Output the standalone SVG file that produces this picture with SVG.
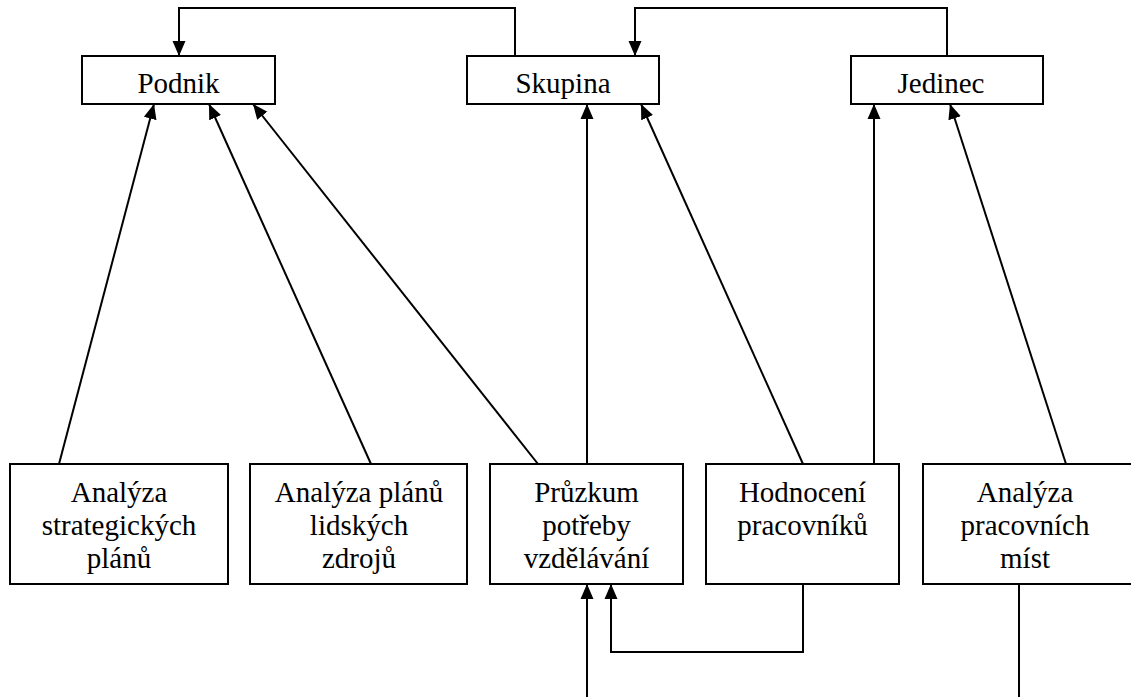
<svg xmlns="http://www.w3.org/2000/svg" width="1131" height="697" viewBox="0 0 1131 697">
  <style>
    .box { fill: #ffffff; stroke: #000000; stroke-width: 2; }
    .lbl { font-family: "Liberation Serif", "DejaVu Serif", serif; font-size: 29px; fill: #000000; text-anchor: middle; }
    .wire { fill: none; stroke: #000000; stroke-width: 2; }
    .arr { marker-end: url(#ah); }
  </style>
  <defs>
    <marker id="ah" markerWidth="15" markerHeight="14" refX="15" refY="7" orient="auto" markerUnits="userSpaceOnUse">
      <path d="M0,0.5 L15,7 L0,13.5 z" fill="#000000"/>
    </marker>
  </defs>
  <rect width="1131" height="697" fill="#ffffff"/>

  <!-- connectors -->
  <g id="connectors">
    <polyline class="wire arr" points="515,56 515,8 179,8 179,56"/>
    <polyline class="wire arr" points="947,56 947,8 635,8 635,56"/>
    <line class="wire arr" x1="59" y1="464" x2="154" y2="104"/>
    <line class="wire arr" x1="371" y1="464" x2="209" y2="104"/>
    <line class="wire arr" x1="538" y1="464" x2="253" y2="104"/>
    <line class="wire arr" x1="587" y1="464" x2="587" y2="104"/>
    <line class="wire arr" x1="803" y1="464" x2="641" y2="104"/>
    <line class="wire arr" x1="874" y1="464" x2="874" y2="104"/>
    <line class="wire arr" x1="1066" y1="464" x2="950" y2="104"/>
    <line class="wire arr" x1="587" y1="700" x2="587" y2="584"/>
    <polyline class="wire arr" points="803,584 803,652 611,652 611,584"/>
    <line class="wire" x1="1019" y1="584" x2="1019" y2="700"/>
  </g>

  <!-- top level -->
  <g id="podnik">
    <rect class="box" x="82" y="56" width="193" height="48"/>
    <text class="lbl" x="178.5" y="93" font-family="Liberation Serif">Podnik</text>
  </g>
  <g id="skupina">
    <rect class="box" x="467" y="56" width="192" height="48"/>
    <text class="lbl" x="563" y="93" font-family="Liberation Serif">Skupina</text>
  </g>
  <g id="jedinec">
    <rect class="box" x="851" y="56" width="192" height="48"/>
    <text class="lbl" x="941" y="93" font-family="Liberation Serif">Jedinec</text>
  </g>

  <!-- analysis sources -->
  <g id="analyza-strategickych">
    <rect class="box" x="10" y="464" width="218" height="120"/>
    <text class="lbl" x="119" y="502">Analýza</text>
    <text class="lbl" x="119" y="535">strategických</text>
    <text class="lbl" x="119" y="568">plánů</text>
  </g>
  <g id="analyza-lidskych-zdroju">
    <rect class="box" x="250" y="464" width="217" height="120"/>
    <text class="lbl" x="359" y="502">Analýza plánů</text>
    <text class="lbl" x="359" y="535">lidských</text>
    <text class="lbl" x="359" y="568">zdrojů</text>
  </g>
  <g id="pruzkum">
    <rect class="box" x="490" y="464" width="193" height="120"/>
    <text class="lbl" x="586.5" y="502">Průzkum</text>
    <text class="lbl" x="586.5" y="535">potřeby</text>
    <text class="lbl" x="586.5" y="568">vzdělávání</text>
  </g>
  <g id="hodnoceni">
    <rect class="box" x="706" y="464" width="193" height="120"/>
    <text class="lbl" x="802.5" y="502">Hodnocení</text>
    <text class="lbl" x="802.5" y="535">pracovníků</text>
  </g>
  <g id="analyza-mist">
    <rect class="box" x="923" y="464" width="220" height="120"/>
    <text class="lbl" x="1025" y="502">Analýza</text>
    <text class="lbl" x="1025" y="535">pracovních</text>
    <text class="lbl" x="1025" y="568">míst</text>
  </g>
</svg>
